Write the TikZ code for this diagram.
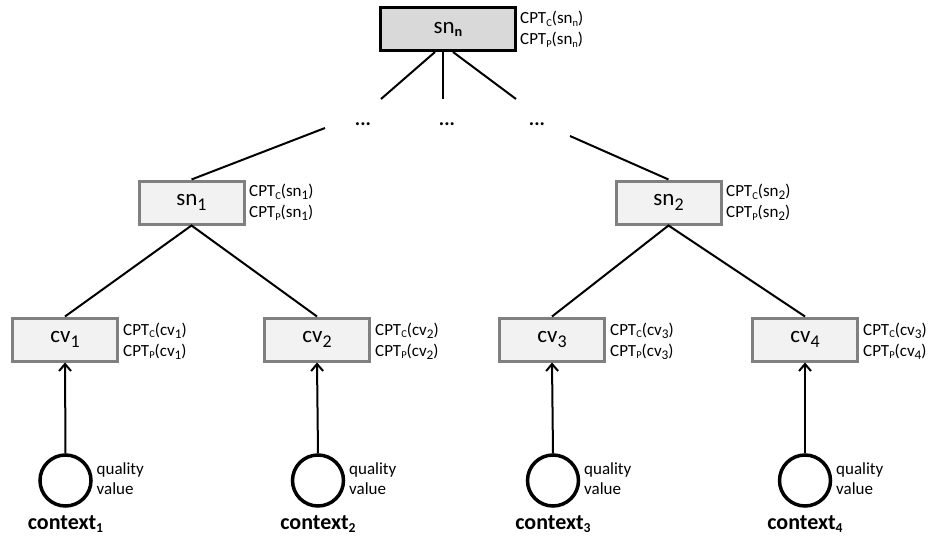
\documentclass[tikz,border=0pt]{standalone}
\usepackage{graphicx}
\usepackage{fontspec}
\setmainfont{Carlito}
\usetikzlibrary{arrows.meta}
\newcommand{\lsub}[1]{\raisebox{-0.35ex}{\scalebox{0.62}{#1}}}
\newcommand{\bsub}[1]{\raisebox{-0.4ex}{\scalebox{0.78}{#1}}}
\tikzset{
  x=1pt, y=-1pt,
  leafbox/.style={draw=black!50, line width=3pt, fill=black!5, minimum width=105pt, minimum height=43pt, inner sep=0pt, font=\fontsize{23}{24}\selectfont},
  topbox/.style={draw=black, line width=3pt, fill=black!15, minimum width=135pt, minimum height=43pt, inner sep=0pt, font=\fontsize{23}{24}\selectfont},
  cpt/.style={anchor=west, align=left, inner sep=0pt, font=\fontsize{17}{21}\selectfont},
  qual/.style={anchor=west, align=left, inner sep=0pt, font=\fontsize{17}{20}\selectfont},
  ctx/.style={inner sep=0pt, font=\fontsize{22}{24}\selectfont\bfseries},
  ctxcircle/.style={circle, draw=black, line width=3.5pt, minimum size=51pt, inner sep=0pt},
  conn/.style={draw=black, line width=2pt},
  arr/.style={conn, -{Straight Barb[length=7pt,width=12pt,line width=2pt]}},
  dots/.style={inner sep=0pt, font=\fontsize{20}{22}\selectfont\bfseries}
}
\begin{document}
\begin{tikzpicture}
\useasboundingbox (0,0) rectangle (939,543);
% top
\node[topbox] (snn) at (448,29.5) {sn\lsub{\bfseries n}};
\node[cpt] (cptn) at (520,29.5) {CPT\lsub{C}(sn\lsub{n})\\CPT\lsub{P}(sn\lsub{n})};
\coordinate (ta) at (381,99);
\coordinate (tb) at (443,99);
\coordinate (tc) at (516,99);
\draw[conn] (435,52) -- (ta);
\draw[conn] (443,52) -- (tb);
\draw[conn] (453,52) -- (tc);
\node[dots] (d1) at (363,124) {...};
\node[dots] (d2) at (447,124) {...};
\node[dots] (d3) at (537,124) {...};
\coordinate (la) at (325,128);
\coordinate (ra) at (570,136);
% second level
\node[leafbox] (sn1) at (191.5,202.5) {sn\bsub{1}};
\node[leafbox] (sn2) at (668.5,202.5) {sn\bsub{2}};
\node[cpt] at (249,202.5) {CPT\lsub{C}(sn\bsub{1})\\CPT\lsub{P}(sn\bsub{1})};
\node[cpt] at (726,202.5) {CPT\lsub{C}(sn\bsub{2})\\CPT\lsub{P}(sn\bsub{2})};
\draw[conn] (la) -- (sn1.north);
\draw[conn] (ra) -- (sn2.north);
% cv level
\node[leafbox] (cv1) at (65,339.5) {cv\bsub{1}};
\node[leafbox] (cv2) at (317,339.5) {cv\bsub{2}};
\node[leafbox] (cv3) at (552,339.5) {cv\bsub{3}};
\node[leafbox] (cv4) at (805,339.5) {cv\bsub{4}};
\node[cpt] at (123,341) {CPT\lsub{C}(cv\bsub{1})\\CPT\lsub{P}(cv\bsub{1})};
\node[cpt] at (375,341) {CPT\lsub{C}(cv\bsub{2})\\CPT\lsub{P}(cv\bsub{2})};
\node[cpt] at (610,341) {CPT\lsub{C}(cv\bsub{3})\\CPT\lsub{P}(cv\bsub{3})};
\node[cpt] at (863,341) {CPT\lsub{C}(cv\bsub{3})\\CPT\lsub{P}(cv\bsub{4})};
\draw[conn] (cv1.north) -- (sn1.south) -- (cv2.north);
\draw[conn] (cv3.north) -- (sn2.south) -- (cv4.north);
% contexts
\foreach \i/\x in {1/65.5,2/318,3/553,4/805} {
  \node[ctxcircle] (c\i) at (\x,480.5) {};
  \node[qual] (q\i) at (\x+31,479) {quality\\value};
  \node[ctx] (t\i) at (\x,524) {context\lsub{\i}};
  \draw[arr] (c\i.north) -- (cv\i.south);
}
\end{tikzpicture}
\end{document}
